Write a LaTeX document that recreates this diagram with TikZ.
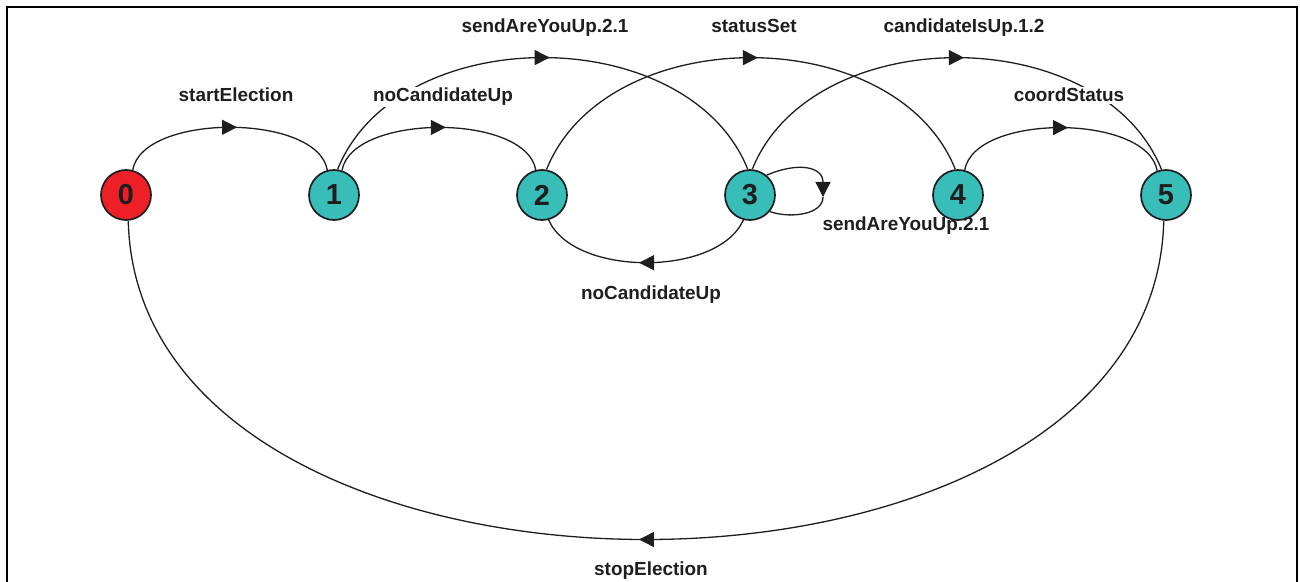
\documentclass[tikz,border=0pt]{standalone}
\usepackage{fontspec}
\setmainfont{Liberation Sans}
\usetikzlibrary{arrows.meta,decorations.markings}
\definecolor{stred}{RGB}{237,32,39}
\definecolor{stteal}{RGB}{56,189,184}
\definecolor{ink}{RGB}{30,30,30}
\begin{document}
\begin{tikzpicture}[x=1bp,y=-1bp,
  state/.style={circle,draw=ink,line width=1.7bp,minimum size=50bp,inner sep=0pt,
    font=\fontsize{29}{32}\selectfont\bfseries,text=ink},
  edge/.style={line width=1.3bp,draw=ink,color=ink},
  trans/.style={edge,postaction={decorate},
    decoration={markings,mark=at position 0.5 with {\arrow[xshift=7bp]{Triangle[length=15bp,width=15bp]}}}},
  looparrow/.style={edge,-{Triangle[length=15bp,width=15bp]}},
  lbl/.style={font=\fontsize{19}{22}\selectfont\bfseries,text=ink,inner sep=1.5bp,anchor=base},
  cutlbl/.style={lbl,fill=white},
  frame/.style={line width=2.2bp,draw=black}]
\useasboundingbox (0,0) rectangle (1300,582);
\draw[frame] (7,582) -- (7,7) -- (1297,7) -- (1297,582);

\node[state,fill=stred]  (n0) at (126,195) {0};
\node[state,fill=stteal] (n1) at (334,195) {1};
\node[state,fill=stteal] (n2) at (542,195) {2};
\node[state,fill=stteal] (n3) at (750,195) {3};
\node[state,fill=stteal] (n4) at (958,195) {4};
\node[state,fill=stteal] (n5) at (1166,195) {5};
\coordinate (loopR) at (823,197);

% short upper arcs
\draw[trans] (n0.75) .. controls +(10,-57) and +(-10,-57) .. (n1.105);
\draw[trans] (n1.72) .. controls +(10,-57) and +(-10,-57) .. (n2.104);
\draw[trans] (n4.75) .. controls +(10,-57) and +(-10,-57) .. (n5.110);
% long upper arcs
\draw[trans] (n1.82) .. controls +(60,-149) and +(-60,-149) .. (n3.95);
\draw[trans] (n2.80) .. controls +(60,-149) and +(-60,-149) .. (n4.96);
\draw[trans] (n3.85) .. controls +(60,-149) and +(-60,-149) .. (n5.100);
% lower arcs
\draw[trans] (n3.255) .. controls +(-25,57) and +(25,57) .. (n2.285);
\draw[trans] (n5.265) .. controls +(-10,425) and +(10,425) .. (n0.275);
% self loop on 3
\draw[looparrow] (n3.50) .. controls (797,162) and (823,166) .. (loopR);
\draw[edge] (loopR) .. controls (823,214) and (792,219) .. (n3.-40);

% labels
\node[lbl] (l01) at (236,102) {startElection};
\node[cutlbl] (l12) at (443,102) {noCandidateUp};
\node[lbl] (l13) at (545,33) {sendAreYouUp.2.1};
\node[lbl] (l24) at (754,33) {statusSet};
\node[lbl] (l35) at (964,33) {candidateIsUp.1.2};
\node[cutlbl] (l45) at (1069,102) {coordStatus};
\node[lbl] (l33) at (906,230) {sendAreYouUp.2.1};
\node[lbl] (l32) at (651,299) {noCandidateUp};
\node[lbl] (l50) at (651,575) {stopElection};
\end{tikzpicture}
\end{document}
